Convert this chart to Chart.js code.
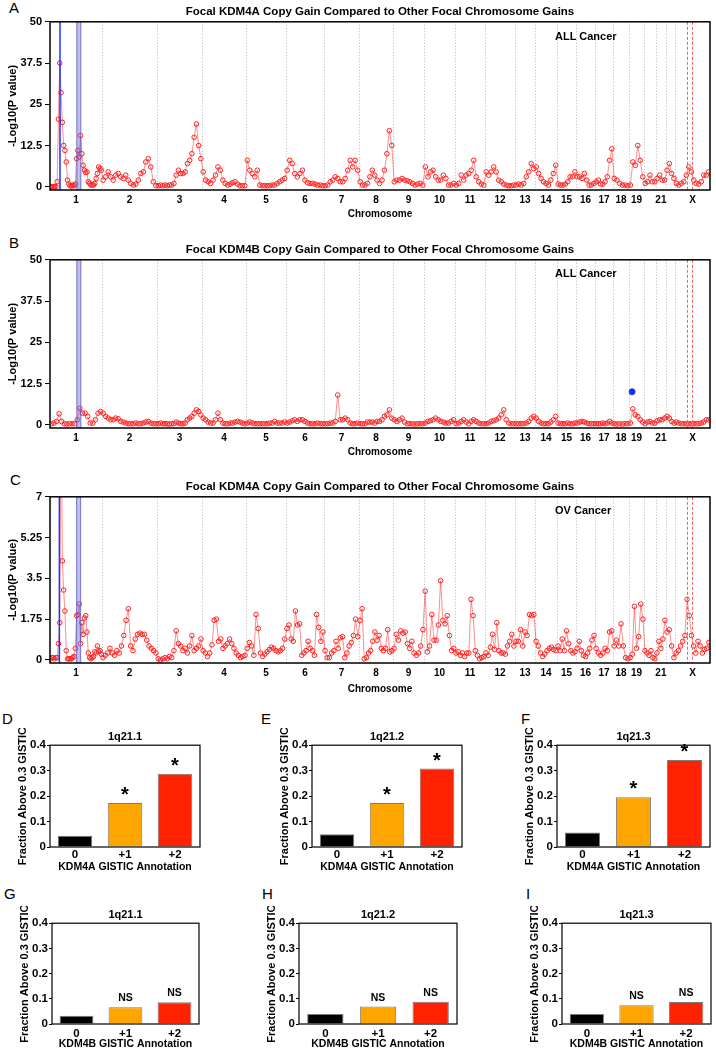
<!DOCTYPE html>
<html>
<head>
<meta charset="utf-8">
<script src="https://cdn.jsdelivr.net/npm/chart.js@4.4.1/dist/chart.umd.min.js"></script>
<style>
  body { margin: 0; background: #fff; width: 716px; height: 1050px; position: relative; overflow: hidden;
         font-family: 'Liberation Sans', Arial, Helvetica, sans-serif; }
  canvas { position: absolute; }
  .letter { position: absolute; font-size: 15px; line-height: 15px; }
  .tag { position: absolute; font-size: 11px; line-height: 12px; font-weight: bold; }
</style>
</head>
<body>
<div class="letter" style="left:9px;top:0px">A</div>
<div class="letter" style="left:9px;top:235px">B</div>
<div class="letter" style="left:10px;top:472px">C</div>
<div class="letter" style="left:2px;top:711px">D</div>
<div class="letter" style="left:261px;top:711px">E</div>
<div class="letter" style="left:521px;top:711px">F</div>
<div class="letter" style="left:4px;top:886px">G</div>
<div class="letter" style="left:262px;top:886px">H</div>
<div class="letter" style="left:526px;top:886px">I</div>

<canvas id="chartA" width="716" height="222" style="left:0;top:0"></canvas>
<canvas id="chartB" width="716" height="222" style="left:0;top:238px"></canvas>
<canvas id="chartC" width="716" height="222" style="left:0;top:475px"></canvas>
<canvas id="chartD" width="215" height="148" style="left:0;top:728px"></canvas>
<canvas id="chartE" width="215" height="148" style="left:262px;top:728px"></canvas>
<canvas id="chartF" width="209" height="148" style="left:507px;top:728px"></canvas>
<canvas id="chartG" width="212" height="144" style="left:2px;top:906px"></canvas>
<canvas id="chartH" width="223" height="144" style="left:249px;top:906px"></canvas>
<canvas id="chartI" width="204" height="144" style="left:512px;top:906px"></canvas>

<div class="tag" style="left:555px;top:30px">ALL Cancer</div>
<div class="tag" style="left:555px;top:267px">ALL Cancer</div>
<div class="tag" style="left:555px;top:504px">OV Cancer</div>

<script>
Chart.defaults.color = '#000';
Chart.defaults.font.family = "'Liberation Sans', Arial, Helvetica, sans-serif";
Chart.defaults.font.weight = 'bold';

// chromosome layout (genome position units along the x axis)
const chromTickLabels = ['1','2','3','4','5','6','7','8','9','10','11','12','13','14','15','16','17','18','19','','21','','X'];
const chromStarts = [0, 244, 503, 714, 921, 1108, 1287, 1451, 1611, 1757, 1902, 2043, 2184, 2278, 2381, 2471, 2560, 2644, 2720, 2790, 2846, 2893, 2936];
const genomeEnd = 3100;

// -log10(p) per chromosome, panel A (KDM4A, all cancers)
const kdm4aAll = [
  [0,0,0,0,0,1.5,20.5,37.5,28.5,19.5,12.5,11,7.5,2,0.8,0.3,0.2,0.5,0.3,0.8,8.5,11,9,15.5,10,6.5,5,4.3,4.5,1.5,1,0.5,0.5,0.5,1,2.5,4,6,5.5,5],
  [2,3,4.5,3,2,3.5,4,3,2.5,3.5,2,1,0.5,0.8,2,4,4.5,7.5,8.5,6,1.5,0.3],
  [0.3,0.5,0.3,0.5,0.3,0.5,0.5,1,3.5,5,4,4,4.5,7,8,10,15,19,12.5,8.5],
  [4.5,2,1.5,1,2,3.5,6,5,2,1,0.5,0.8,1.2,1.5,0.8,0.3,0.3,0.3],
  [8,5,4,3,5,0.5,0.3,0.3,0.3,0.3,0.5,0.5,1,1.5,2,2.5],
  [5,8,7,4,3,4,5,2,1.2,1,1,0.8,0.5,0.5,0.3],
  [0.3,0.5,1.5,2,3,2.5,1.5,1.5,2.5,5,8,6,8,5],
  [1.5,0.5,0.5,1,3,5,3.5,2,1,2,5,10,17,12.5],
  [1.5,2,2,2.5,2,1.8,1.5,1,0.5,0.8,1,0.5],
  [6,3,4.5,5,3,2,2,3.5,2.5,0.5,0.5,1],
  [0.5,1,3.5,2,3.5,4,5,8,3,1.5,0.8,0.5],
  [4.5,3.5,4.5,6,4.5,2,1.5,0.8,0.5,0.3,0.3,0.5],
  [0.5,0.8,0.5,1,3,4.5,7,5.5],
  [6,4,2.5,1.5,1,0.5,2,4,6.5],
  [0.8,0.5,0.5,0.8,1.5,3,3,4.5],
  [3,3,2.5,4,2,0.5,0.5,1],
  [1.5,2,0.8,0.8,1.5,3,8,11.5],
  [2.5,2,1,0.5,0.5,0.3],
  [0.5,7.5,6.5,12.5,8,3],
  [1,1.5,3.5,1.5,1.5],
  [2.5,3.5,2,2],
  [5,7,4,2.5],
  [1,0.5,1,1.5,3.5,6,4.5,2,1,0.8,1.5,3.5,3.5,4.5]
];

// panel B (KDM4B, all cancers)
const kdm4bAll = [
  [0.3,0.5,1,3.3,1,0.3,0.2,0.3,0.3,0.3,1.5,5,3.5,3.5,2.5,0.5,0.5,1.5,3.5,4],
  [3.5,2.5,2,1.5,1.5,2,1.8,1,0.8,0.5,0.3,0.3,0.3,0.5,0.3,0.3,0.5,0.8,1,0.5,0.3,0.3],
  [0.3,0.5,0.3,0.3,0.3,0.2,0.3,0.3,0.8,0.5,0.3,0.3,0.5,1.5,2,2.5,3.5,4.5,4,3],
  [2,1.5,0.8,0.5,0.5,1.5,3.5,1.5,0.5,0.3,0.3,0.5,0.5,0.8,1,0.8,0.5,0.3],
  [0.5,0.8,0.5,0.3,0.3,0.3,0.3,0.3,0.3,0.5,0.5,1,0.5,0.5,0.5,0.8],
  [0.5,0.8,1.2,1.5,1,1.5,1.5,1,0.5,0.3,0.3,0.3,0.5,0.3,0.3],
  [0.3,0.3,0.5,0.5,1,9,1.5,1.5,2,1.5,0.5,0.3,0.3,0.5],
  [0.3,0.3,0.3,0.8,0.8,0.8,0.5,1,1,1.5,2.5,3,4.5,2],
  [1.5,1,1.5,2,0.8,0.3,0.3,0.3,0.2,0.3,0.3,0.3],
  [0.5,1,1.2,1.5,2,1.5,1,0.8,0.5,0.5,1,1.5],
  [0.3,0.5,1,1.5,0.8,0.3,1,1.5,1,0.5,0.3,0.3],
  [0.3,0.5,1,1.2,1.5,2,3,4.5,1.5,0.5,0.3,0.3],
  [0.3,0.3,0.3,0.3,0.5,1,2,2.5],
  [2,1,0.5,0.3,0.3,0.3,0.8,1.5,2.5],
  [0.5,0.3,0.3,0.3,0.5,0.3,0.3,0.5],
  [0.5,0.8,1,0.8,0.5,0.3,0.3,0.3],
  [0.3,0.3,0.3,0.5,0.3,0.5,1,0.5],
  [0.3,0.2,0.3,0.2,0.3,0.3],
  [0.5,4.8,3,2.5,1.5,0.8],
  [0.3,0.8,1,0.5,0.5],
  [1.2,1.5,1.5,2],
  [2.5,2,1,0.5],
  [0.8,0.5,0.3,0.3,0.3,0.3,0.3,0.3,0.3,0.3,0.5,0.8,1.5,1.5]
];
const kdm4bSpot = [{ x: 2734, y: 10 }];

// panel C (KDM4A, ovarian cancer)
const kdm4aOv = [
  [0.05,0.1,0.1,0.05,0.1,0.1,0.7,1.6,12,4.25,3.0,2.1,0.4,0.05,0.05,0.05,0.05,0.1,0.15,0.5,1.9,1.95,2.4,0.7,1.6,1.1,1.8,1.9,1.2,0.3,0.1,0.05,0.1,0.15,0.35,0.3,0.6,0.35,0.4,0.25],
  [0.1,0.2,0.3,0.5,0.3,0.2,0.4,0.3,0.6,1.05,1.7,2.2,0.6,0.4,0.9,1.1,1.15,1.1,1.1,0.85,0.6,0.5,0.4,0.3],
  [0.05,0,0.05,0.1,0.05,0.15,0.1,0.4,1.25,0.7,0.6,0.4,0.5,0.3,0.6,1.05,0.4,0.5,0.6,0.9],
  [0.4,0.3,0.15,0.3,0.65,1.7,1.75,0.8,0.9,0.5,0.6,0.7,0.9,0.7,0.5,0.3,0.2,0.1,0.15,0.2],
  [0.5,0.75,0.6,0.2,1.95,1.35,0.3,0.15,0.25,0.35,0.45,0.55,0.5,0.4,0.35,0.4,0.5,0.9],
  [1.35,1.5,0.9,0.8,2.1,1.5,1.55,0.2,0.3,0.4,0.8,0.5,0.4,0.2,1.95,1.4,0.8,1.2],
  [0.4,0.1,0.1,0.3,0.4,0.8,0.5,0.95,1.0,0.1,0.3,0.6,0.75,1.05,1.75,1.0],
  [1.7,2.2,0.05,0.1,0.3,0.4,0.8,1.2,0.85,1.05,0.5,0.4,0.5,1.3,0.35,0.4],
  [0.5,1.1,0.85,1.25,1.15,1.2,0.7,0.5,0.8,0.3,0.2,0.3,0.6,1.3],
  [2.95,0.35,0.6,1.95,0.85,0.85,1.5,3.4,1.7,1.55,1.9,1.05,0.4,0.5],
  [0.3,0.35,0.2,0.3,0.15,0.3,0.3,2.6,1.9,0.4,0.2,0.05,0.1,0.15],
  [0.3,0.2,0.55,1.1,0.45,1.6,0.4,0.3,0.3,0.25,0.6,0.8,1.1,0.6],
  [0.8,0.8,1.3,0.6,1.2,1.05,1.95,1.9,1.95],
  [0.8,0.6,0.3,0.15,0.25,0.4,0.5,0.55,0.45,0.4],
  [0.6,0.4,0.9,0.4,1.25,0.7,0.4,0.3,0.35],
  [0.5,0.8,0.4,0.2,0.15,0.3,0.5,0.85,1.05],
  [0.5,0.3,0.2,0.3,0.5,0.4,1.2,1.25],
  [0.6,0.85,0.6,1.55,0.6,0.1,0.05],
  [0.1,0.25,2.3,0.5,1.0,2.4,1.75],
  [0.4,0.3,0.2,0.4,0.1,0.05],
  [0.3,0.8,0.5,0.9,1.7],
  [1.2,1.3,0.6,0.1],
  [0.3,0.4,0.6,0.8,1.05,2.6,1.9,1.05,0.6,0.3,0.8,0.6,0.3,0.45,0.5,0.75]
];

// bar panels: fraction above 0.3 GISTIC
const gisticLevels = ['0', '+1', '+2'];
const gisticColors = ['#000000', '#ffa500', '#ff2200'];
const kdm4a_1q211 = [0.044, 0.173, 0.288];
const kdm4a_1q212 = [0.05, 0.173, 0.308];
const kdm4a_1q213 = [0.057, 0.195, 0.342];
const kdm4b_1q211 = [0.033, 0.066, 0.086];
const kdm4b_1q212 = [0.04, 0.069, 0.088];
const kdm4b_1q213 = [0.04, 0.074, 0.087];
const sigKdm4a = ['', '*', '*'];
const sigKdm4b = ['', 'NS', 'NS'];

function genomePoints(byChrom) {
  const pts = [];
  byChrom.forEach((vals, c) => {
    const start = chromStarts[c];
    const end = c + 1 < chromStarts.length ? chromStarts[c + 1] : genomeEnd;
    const step = (end - start) / vals.length;
    vals.forEach((v, i) => pts.push({ x: start + (i + 0.5) * step, y: v }));
  });
  return pts;
}

const chromCenters = chromStarts.map((s, c) => (s + (c + 1 < chromStarts.length ? chromStarts[c + 1] : genomeEnd)) / 2);

function genomeMarks(marks) {
  return {
    id: 'genomeMarks',
    beforeDatasetsDraw(chart) {
      const { ctx, chartArea: a, scales: { x } } = chart;
      ctx.save();
      ctx.strokeStyle = '#b8b8b8';
      ctx.lineWidth = 1;
      ctx.setLineDash([1, 2]);
      chromStarts.slice(1).forEach(s => {
        const px = Math.round(x.getPixelForValue(s)) + 0.5;
        ctx.beginPath(); ctx.moveTo(px, a.top); ctx.lineTo(px, a.bottom); ctx.stroke();
      });
      ctx.restore();
    },
    afterDatasetsDraw(chart) {
      const { ctx, chartArea: a, scales: { x } } = chart;
      ctx.save();
      // 1q21 band
      const b0 = x.getPixelForValue(marks.band[0]), b1 = x.getPixelForValue(marks.band[1]);
      ctx.fillStyle = 'rgba(110,110,205,0.45)';
      ctx.fillRect(b0, a.top, b1 - b0, a.height);
      ctx.strokeStyle = 'rgba(80,80,200,0.75)';
      ctx.lineWidth = 1;
      [b0, b1].forEach(p => { ctx.beginPath(); ctx.moveTo(p, a.top); ctx.lineTo(p, a.bottom); ctx.stroke(); });
      if (marks.gene != null) {
        const g = x.getPixelForValue(marks.gene);
        ctx.strokeStyle = '#1a35ff';
        ctx.lineWidth = 1.5;
        ctx.beginPath(); ctx.moveTo(g, a.top); ctx.lineTo(g, a.bottom); ctx.stroke();
      }
      ctx.strokeStyle = '#ff5a5a';
      ctx.lineWidth = 1;
      ctx.setLineDash([3, 2]);
      marks.dashed.forEach(v => {
        const p = Math.round(x.getPixelForValue(v)) + 0.5;
        ctx.beginPath(); ctx.moveTo(p, a.top); ctx.lineTo(p, a.bottom); ctx.stroke();
      });
      ctx.restore();
    },
    afterDraw(chart) {
      const { ctx, chartArea: a } = chart;
      ctx.save();
      ctx.strokeStyle = '#000';
      ctx.lineWidth = 1.5;
      ctx.strokeRect(a.left, a.top, a.width, a.height);
      ctx.restore();
    }
  };
}

function genomeChart(id, title, series, yMin, yMax, yTicks, xAxisHeight, marks, extra) {
  const datasets = [{
    data: genomePoints(series),
    showLine: true,
    borderColor: 'rgba(255,50,50,0.55)',
    borderWidth: 1,
    pointRadius: 2.3,
    pointBorderWidth: 1,
    pointBorderColor: '#ff2020',
    pointBackgroundColor: 'rgba(255,255,255,0)'
  }];
  (extra || []).forEach(d => datasets.push(d));
  return new Chart(document.getElementById(id), {
    type: 'scatter',
    data: { datasets },
    options: {
      responsive: false,
      animation: false,
      devicePixelRatio: 1,
      layout: { padding: { left: 0, right: 6, top: 0, bottom: 0 } },
      plugins: {
        legend: { display: false },
        tooltip: { enabled: false },
        title: { display: true, text: title, fullSize: false, font: { size: 11.5, weight: 'bold' }, padding: { top: 5, bottom: 3 } }
      },
      scales: {
        x: {
          type: 'linear', min: 0, max: genomeEnd,
          grid: { display: false, drawTicks: false },
          border: { display: false },
          afterBuildTicks: s => { s.ticks = chromCenters.map(v => ({ value: v })); },
          afterFit: s => { s.height = xAxisHeight; },
          ticks: { autoSkip: false, maxRotation: 0, minRotation: 0, padding: 4, font: { size: 10 },
                   callback: (v, i) => chromTickLabels[i] },
          title: { display: true, text: 'Chromosome', font: { size: 10 }, padding: { top: 0, bottom: 2 } }
        },
        y: {
          min: yMin, max: yMax,
          grid: { drawOnChartArea: false, drawTicks: true, tickLength: 5, color: '#000' },
          border: { display: false },
          afterBuildTicks: s => { s.ticks = yTicks.map(v => ({ value: v })); },
          afterFit: s => { s.width = 50; },
          ticks: { padding: 3, font: { size: 11 }, callback: v => String(v) },
          title: { display: true, text: '-Log10(P value)', font: { size: 11 }, padding: { top: 6, bottom: 0 } }
        }
      }
    },
    plugins: [genomeMarks(marks)]
  });
}

genomeChart('chartA', 'Focal KDM4A Copy Gain Compared to Other Focal Chromosome Gains', kdm4aAll,
  -1, 50, [0, 12.5, 25, 37.5, 50], 32, { band: [126, 145], gene: 47, dashed: [2992, 3015] });

genomeChart('chartB', 'Focal KDM4B Copy Gain Compared to Other Focal Chromosome Gains', kdm4bAll,
  -1, 50, [0, 12.5, 25, 37.5, 50], 32, { band: [126, 145], gene: null, dashed: [2992, 3015] },
  [{ data: kdm4bSpot, showLine: false, pointRadius: 3, pointBackgroundColor: '#1030ff', pointBorderColor: '#1030ff' }]);

genomeChart('chartC', 'Focal KDM4A Copy Gain Compared to Other Focal Chromosome Gains', kdm4aOv,
  -0.13, 7, [0, 1.75, 3.5, 5.25, 7], 34, { band: [125, 144], gene: 44, dashed: [2992, 3015] });

function barMarks(sig, starFont, nsFont) {
  return {
    id: 'barMarks',
    afterDatasetsDraw(chart) {
      const { ctx } = chart;
      const bars = chart.getDatasetMeta(0).data;
      ctx.save();
      ctx.fillStyle = '#000';
      ctx.textAlign = 'center';
      sig.forEach((t, i) => {
        if (!t) return;
        const b = bars[i];
        if (t === '*') {
          ctx.font = starFont;
          ctx.textBaseline = 'alphabetic';
          ctx.fillText(t, b.x, b.y - 2);
        } else {
          ctx.font = nsFont;
          ctx.textBaseline = 'middle';
          ctx.fillText(t, b.x, b.y - 9);
        }
      });
      ctx.restore();
    },
    afterDraw(chart) {
      const { ctx, chartArea: a } = chart;
      ctx.save();
      ctx.strokeStyle = '#000';
      ctx.lineWidth = 1.2;
      ctx.strokeRect(a.left, a.top, a.width, a.height);
      ctx.restore();
    }
  };
}

function gisticChart(id, title, values, sig, geneName, padRight, xAxisHeight, xTickPad, xTitlePad) {
  return new Chart(document.getElementById(id), {
    type: 'bar',
    data: {
      labels: gisticLevels,
      datasets: [{
        data: values,
        backgroundColor: gisticColors,
        borderColor: '#7a7a7a',
        borderWidth: 1,
        barPercentage: 0.69,
        categoryPercentage: 1
      }]
    },
    options: {
      responsive: false,
      animation: false,
      devicePixelRatio: 1,
      layout: { padding: { left: 0, right: padRight, top: 0, bottom: 0 } },
      plugins: {
        legend: { display: false },
        tooltip: { enabled: false },
        title: { display: true, text: title, fullSize: false, font: { size: 11, weight: 'bold' }, padding: { top: 2, bottom: 2 } }
      },
      scales: {
        x: {
          grid: { display: false, drawTicks: false },
          border: { display: false },
          afterFit: s => { s.height = xAxisHeight; },
          ticks: { padding: xTickPad, font: { size: 11.5 } },
          title: { display: true, text: geneName + ' GISTIC Annotation', font: { size: 10.5 }, padding: { top: 0, bottom: xTitlePad } }
        },
        y: {
          min: 0, max: 0.4,
          grid: { drawOnChartArea: false, drawTicks: true, tickLength: 3, color: '#000' },
          border: { display: false },
          afterFit: s => { s.width = 50; },
          ticks: { stepSize: 0.1, padding: 1, font: { size: 11.5 }, callback: v => (v === 0 ? '0' : v.toFixed(1)) },
          title: { display: true, text: 'Fraction Above 0.3 GISTIC', font: { size: 11 }, padding: { top: 16, bottom: 0 } }
        }
      }
    },
    plugins: [barMarks(sig, "bold 20px 'Liberation Sans', Arial, sans-serif", "bold 10.5px 'Liberation Sans', Arial, sans-serif")]
  });
}

gisticChart('chartD', '1q21.1', kdm4a_1q211, sigKdm4a, 'KDM4A', 15, 29, 1, 3);
gisticChart('chartE', '1q21.2', kdm4a_1q212, sigKdm4a, 'KDM4A', 15, 29, 1, 3);
gisticChart('chartF', '1q21.3', kdm4a_1q213, sigKdm4a, 'KDM4A', 6, 29, 1, 3);
gisticChart('chartG', '1q21.1', kdm4b_1q211, sigKdm4b, 'KDM4B', 15, 26, 3, 0);
gisticChart('chartH', '1q21.2', kdm4b_1q212, sigKdm4b, 'KDM4B', 15, 26, 3, 0);
gisticChart('chartI', '1q21.3', kdm4b_1q213, sigKdm4b, 'KDM4B', 5, 26, 3, 0);
</script>
</body>
</html>
